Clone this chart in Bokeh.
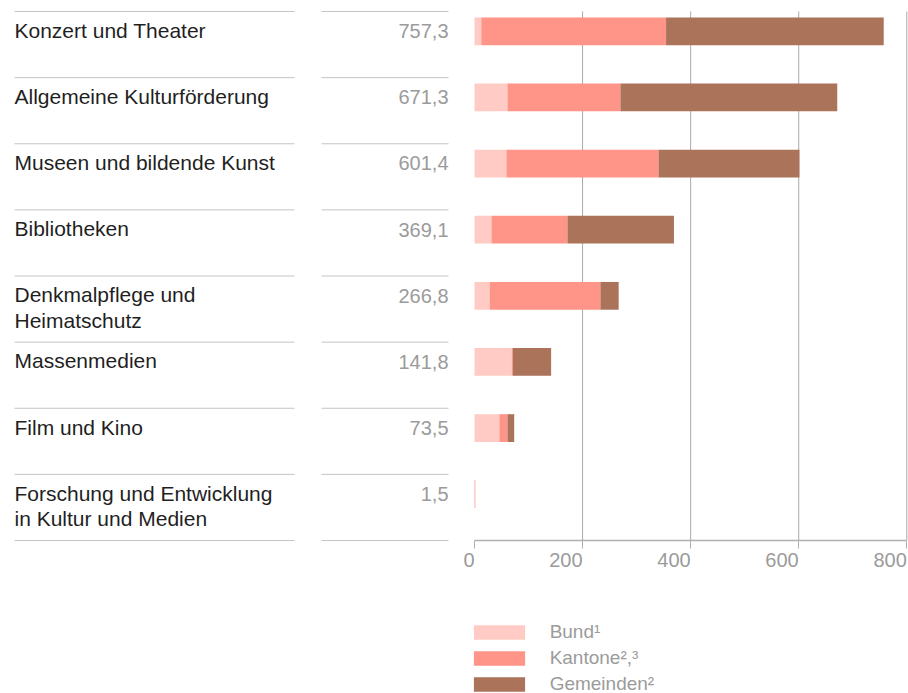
from bokeh.plotting import figure
from bokeh.models import Range1d, FixedTicker, Legend, LegendItem, ColumnDataSource, LinearAxis
from bokeh.embed import file_html
from bokeh.resources import INLINE
from bokeh.core.properties import value

# ---------------- data ----------------
categories = [
    "Konzert und Theater",
    "Allgemeine Kulturförderung",
    "Museen und bildende Kunst",
    "Bibliotheken",
    "Denkmalpflege und\nHeimatschutz",
    "Massenmedien",
    "Film und Kino",
    "Forschung und Entwicklung\nin Kultur und Medien",
]
totals = [757.3, 671.3, 601.4, 369.1, 266.8, 141.8, 73.5, 1.5]
bund = [12.5, 61.0, 59.0, 31.5, 28.0, 69.0, 46.0, 0.2]
kantone = [342.0, 209.0, 281.5, 140.5, 205.0, 2.0, 15.0, 1.2]
gemeinden = [402.8, 401.3, 260.9, 197.1, 33.8, 70.8, 12.5, 0.1]
series_keys = ["bund", "kantone", "gemeinden"]
series_names = ["Bund¹", "Kantone²,³", "Gemeinden²"]
series_colors = ["#ffcbc4", "#ff9488", "#ab735a"]
x_ticks = [0, 200, 400, 600, 800]
grid_ticks = [200, 400, 600, 800]

# ---------------- layout (screen px) ----------------
W, H = 908, 693
ZERO_PX = 474              # screen x of value 0
PX_PER_UNIT = 432.3 / 800  # horizontal scale of the bars
ROW_TOP = 11               # screen y of first rule
ROW_PX = 66.125            # row pitch
FONT = "Liberation Sans"
GREY = "#9b9b9b"
TXT_SHIFT = -7             # baseline correction for text glyphs (px)

x_start = -ZERO_PX / PX_PER_UNIT
x_end = (W - ZERO_PX) / PX_PER_UNIT
y_top = -ROW_TOP / ROW_PX
y_bottom = (H - ROW_TOP) / ROW_PX

p = figure(width=W, height=H, output_backend="svg", toolbar_location=None,
           x_range=Range1d(x_start, x_end), y_range=Range1d(y_bottom, y_top),
           x_axis_location=None, y_axis_location=None,
           min_border=0, min_border_left=0, min_border_right=0,
           min_border_top=0, min_border_bottom=0)
p.outline_line_color = None
p.background_fill_color = "white"
p.border_fill_color = "white"
p.xgrid.visible = False
p.ygrid.visible = False
p.extra_x_ranges = {"px": Range1d(0, W)}

n = len(categories)
rows = list(range(n))
src = ColumnDataSource(dict(
    y=[i + 0.30 for i in rows],
    bund=bund, kantone=kantone, gemeinden=gemeinden,
))

# vertical grid lines (only over the table area)
p.segment(x0=grid_ticks, x1=grid_ticks, y0=[0] * len(grid_ticks), y1=[n] * len(grid_ticks),
          line_color="#a9a9a9", line_width=1)

# separator lines (table rules)
sep_y = list(range(n + 1))
p.segment(x0=[14] * (n + 1), x1=[294] * (n + 1), y0=sep_y, y1=sep_y,
          x_range_name="px", line_color="#c4c4c4", line_width=1)
p.segment(x0=[321] * (n + 1), x1=[448] * (n + 1), y0=sep_y, y1=sep_y,
          x_range_name="px", line_color="#c4c4c4", line_width=1)

# stacked bars
renderers = p.hbar_stack(series_keys, y="y", height=0.42, color=series_colors,
                         line_color=None, source=src)

# category labels
line1 = [c.split("\n")[0] for c in categories]
l2_text = [c.split("\n")[1] for c in categories if "\n" in c]
l2_rows = [i for i, c in enumerate(categories) if "\n" in c]
p.text(x=[14] * n, y=[i + 0.39 for i in rows], text=line1, x_range_name="px",
       y_offset=TXT_SHIFT, text_font=value(FONT), text_font_size="21px", text_color="#1f1f1f",
       text_baseline="alphabetic", text_align="left")
p.text(x=[14] * len(l2_text), y=[i + 0.773 for i in l2_rows], text=l2_text,
       x_range_name="px", y_offset=TXT_SHIFT, text_font=value(FONT), text_font_size="21px",
       text_color="#1f1f1f", text_baseline="alphabetic", text_align="left")

# totals
tot_text = [f"{t:.1f}".replace(".", ",") for t in totals]
p.text(x=[448] * n, y=[i + 0.404 for i in rows], text=tot_text, x_range_name="px",
       y_offset=TXT_SHIFT, text_font=value(FONT), text_font_size="20px", text_color=GREY,
       text_baseline="alphabetic", text_align="right")

# x axis (line and ticks) at the bottom of the table
ax = LinearAxis(fixed_location=n, ticker=FixedTicker(ticks=x_ticks), bounds=(0, 800),
                axis_line_color="#b0b0b0", axis_line_width=1.5,
                major_tick_line_color="#b0b0b0", major_tick_line_width=1,
                major_tick_out=8, major_tick_in=0, minor_tick_out=0, minor_tick_in=0,
                major_label_overrides={t: "" for t in x_ticks})
p.add_layout(ax, "below")

# tick labels, right-aligned to their tick
p.text(x=x_ticks, y=[n] * len(x_ticks), text=[str(t) for t in x_ticks],
       y_offset=26.7 + TXT_SHIFT, text_font=value(FONT), text_font_size="20px", text_color=GREY,
       text_baseline="alphabetic", text_align="right")

# legend (Bokeh insets bar swatches by 10% on each side)
GW, GH = 51 / 0.8, 14 / 0.8
leg_x = 473 - 0.1 * GW
legend = Legend(items=[LegendItem(label=nm, renderers=[r]) for nm, r in zip(series_names, renderers)],
                location=(leg_x, -2), orientation="vertical",
                border_line_color=None, background_fill_alpha=0,
                padding=0, margin=0, spacing=4, label_standoff=round(549 - leg_x - GW),
                glyph_width=round(GW), glyph_height=round(GH), label_height=22,
                label_text_font=FONT, label_text_font_size="19px",
                label_text_color=GREY)
p.add_layout(legend, "center")

open("out.html", "w").write(file_html(p, INLINE))
